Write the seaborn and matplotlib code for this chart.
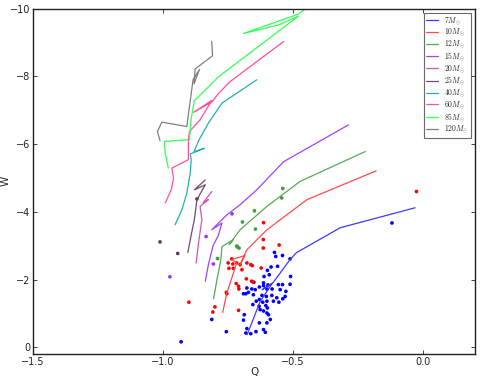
import matplotlib
matplotlib.use("Agg")
import matplotlib.pyplot as plt
import seaborn as sns
import pandas as pd

# ---- evolutionary tracks (Q, W) ----
masses = ["7", "10", "12", "15", "20", "25", "40", "60", "85", "120"]

q7 = [-0.677, -0.627, -0.581, -0.619, -0.577, -0.512, -0.488, -0.319, -0.031]
w7 = [-0.37, -1.35, -1.88, -1.70, -1.91, -2.59, -2.79, -3.53, -4.12]

q10 = [-0.771, -0.755, -0.730, -0.717, -0.736, -0.685, -0.704, -0.678, -0.601, -0.447, -0.181]
w10 = [-1.03, -1.60, -2.19, -2.49, -2.59, -2.71, -2.44, -2.88, -3.47, -4.36, -5.21]

q12 = [-0.806, -0.793, -0.778, -0.774, -0.730, -0.746, -0.704, -0.601, -0.473, -0.223]
w12 = [-1.43, -2.00, -2.59, -2.97, -3.18, -3.03, -3.47, -4.16, -4.90, -5.78]

q15 = [-0.838, -0.826, -0.808, -0.788, -0.774, -0.813, -0.755, -0.704, -0.640, -0.537, -0.287]
w15 = [-1.95, -2.44, -3.00, -3.30, -3.67, -3.47, -3.91, -4.21, -4.65, -5.48, -6.57]

q20 = [-0.873, -0.864, -0.851, -0.858, -0.826, -0.846, -0.813]
w20 = [-2.49, -3.08, -3.77, -4.16, -4.36, -4.27, -4.60]

q25 = [-0.905, -0.892, -0.880, -0.870, -0.838, -0.880, -0.838]
w25 = [-2.80, -3.32, -3.77, -4.36, -4.80, -4.65, -4.94]

q40 = [-0.954, -0.928, -0.909, -0.896, -0.892, -0.896, -0.841, -0.881, -0.864, -0.826, -0.774, -0.640]
w40 = [-3.62, -4.06, -4.55, -5.14, -5.54, -5.71, -5.88, -5.77, -6.10, -6.62, -7.21, -7.90]

q60 = [-0.992, -0.969, -0.960, -0.967, -0.903, -0.903, -0.899, -0.858, -0.813, -0.883, -0.812, -0.787, -0.742, -0.537]
w60 = [-4.26, -4.65, -5.00, -5.29, -5.54, -6.13, -6.37, -6.72, -7.29, -6.94, -7.25, -7.50, -7.85, -9.03]

q85 = [-0.980, -0.992, -0.996, -0.899, -0.893, -0.880, -0.787, -0.480, -0.557, -0.691, -0.480, -0.427]
w85 = [-5.29, -5.73, -6.08, -6.13, -6.72, -7.28, -7.99, -9.78, -9.52, -9.27, -9.84, -10.14]

q120 = [-1.012, -1.022, -1.005, -0.909, -0.885, -0.860, -0.881, -0.877, -0.810, -0.813]
w120 = [-6.10, -6.37, -6.65, -6.52, -7.90, -8.21, -7.78, -8.22, -8.61, -9.03]

# ---- observed stars ----
blue_q = [-0.572, -0.567, -0.541, -0.512, -0.585, -0.560, -0.599, -0.612, -0.592, -0.510,
          -0.651, -0.614, -0.597, -0.557, -0.541, -0.512, -0.678, -0.672, -0.659, -0.646,
          -0.630, -0.614, -0.601, -0.581, -0.550, -0.528, -0.691, -0.682, -0.653, -0.620,
          -0.603, -0.582, -0.563, -0.540, -0.531, -0.642, -0.630, -0.617, -0.601, -0.576,
          -0.555, -0.655, -0.631, -0.605, -0.599, -0.627, -0.614, -0.601, -0.595, -0.688,
          -0.691, -0.630, -0.601, -0.588, -0.614, -0.607, -0.643, -0.678, -0.682, -0.663,
          -0.813, -0.757, -0.931, -0.120]
blue_w = [-2.80, -2.68, -2.71, -2.61, -2.37, -2.39, -2.27, -2.09, -2.14, -2.09,
          -1.92, -1.90, -1.84, -1.85, -1.85, -1.86, -1.75, -1.62, -1.72, -1.70,
          -1.78, -1.82, -1.72, -1.72, -1.70, -1.65, -1.58, -1.58, -1.55, -1.53,
          -1.50, -1.53, -1.46, -1.43, -1.50, -1.36, -1.41, -1.33, -1.36, -1.36,
          -1.33, -1.26, -1.21, -1.23, -1.16, -1.11, -1.07, -1.01, -0.96, -0.96,
          -0.80, -0.72, -0.72, -0.82, -0.52, -0.44, -0.46, -0.55, -0.42, -0.40,
          -0.82, -0.46, -0.16, -3.67]

red_q = [-0.614, -0.615, -0.615, -0.554, -0.750, -0.736, -0.717, -0.732, -0.747, -0.730,
         -0.704, -0.697, -0.678, -0.663, -0.657, -0.623, -0.680, -0.660, -0.654, -0.719,
         -0.710, -0.709, -0.757, -0.755, -0.801, -0.809, -0.710, -0.901, -0.026]
red_w = [-3.68, -3.18, -2.93, -3.02, -2.49, -2.61, -2.49, -2.46, -2.33, -2.33,
         -2.44, -2.29, -2.49, -2.44, -2.41, -2.34, -2.02, -1.95, -1.92, -1.88,
         -1.80, -1.72, -1.62, -1.58, -1.19, -1.04, -1.09, -1.33, -4.60]

green_q = [-0.540, -0.544, -0.649, -0.695, -0.645, -0.714, -0.708, -0.717, -0.791]
green_w = [-4.69, -4.41, -4.03, -3.70, -3.49, -2.96, -2.93, -2.99, -2.62]

purple_q = [-0.735, -0.835, -0.807, -0.974]
purple_w = [-3.94, -3.27, -2.46, -2.08]

dpurple_q = [-1.012, -0.944, -0.870]
dpurple_w = [-3.11, -2.77, -4.38]

tracks = {"7": (q7, w7), "10": (q10, w10), "12": (q12, w12), "15": (q15, w15),
          "20": (q20, w20), "25": (q25, w25), "40": (q40, w40), "60": (q60, w60),
          "85": (q85, w85), "120": (q120, w120)}
track_colors = {"7": "#3a3aff", "10": "#ff4a4a", "12": "#55aa55", "15": "#a640ff",
                "20": "#d055b8", "25": "#6e4a6e", "40": "#22b0b0", "60": "#ff4fa0",
                "85": "#33ff55", "120": "#808080"}

sns.set_style("ticks")
plt.rcParams.update({
    "xtick.direction": "in", "ytick.direction": "in",
    "xtick.top": True, "ytick.right": True,
    "xtick.major.size": 3, "ytick.major.size": 3,
    "axes.linewidth": 1.0, "axes.edgecolor": "#222222",
    "mathtext.fontset": "cm",
})
plt.rcParams["font.family"] = ["DejaVu Sans"]

fig = plt.figure(figsize=(4.8, 3.79), dpi=100)
ax = fig.add_axes([0.069, 0.066, 0.921, 0.911])

for m in masses:
    q, w = tracks[m]
    df = pd.DataFrame({"Q": q, "W": w})
    sns.lineplot(data=df, x="Q", y="W", sort=False, estimator=None, ax=ax,
                 color=track_colors[m], linewidth=0.9, label=r"$%sM_{\odot}$" % m)

for qs, ws, c in [(blue_q, blue_w, "#0000ff"), (red_q, red_w, "#ff0000"),
                  (green_q, green_w, "#3d9e3d"), (purple_q, purple_w, "#9b30ff"),
                  (dpurple_q, dpurple_w, "#5a3a5a")]:
    sns.scatterplot(x=qs, y=ws, ax=ax, color=c, s=7, edgecolor="none",
                    linewidth=0, legend=False)

ax.set_xlim(-1.5, 0.2)
ax.set_ylim(0.2, -10)
ax.set_xticks([-1.5, -1.0, -0.5, 0.0])
ax.set_yticks([0, -2, -4, -6, -8, -10])
ax.tick_params(labelsize=7, colors="#222222", width=0.6, pad=2)
ax.set_xlabel("Q", fontsize=7.5, labelpad=0)
ax.set_ylabel("W", fontsize=7.5)
ax.yaxis.set_label_coords(-0.05, 0.5)

leg = ax.legend(loc="upper right", fontsize=5.5, frameon=True, fancybox=False,
                handlelength=1.6, labelspacing=0.0, borderpad=0.3,
                handletextpad=0.8, borderaxespad=0.5)
leg.get_frame().set_edgecolor("#444444")
leg.get_frame().set_linewidth(0.8)

fig.savefig("out.png", dpi=100)
